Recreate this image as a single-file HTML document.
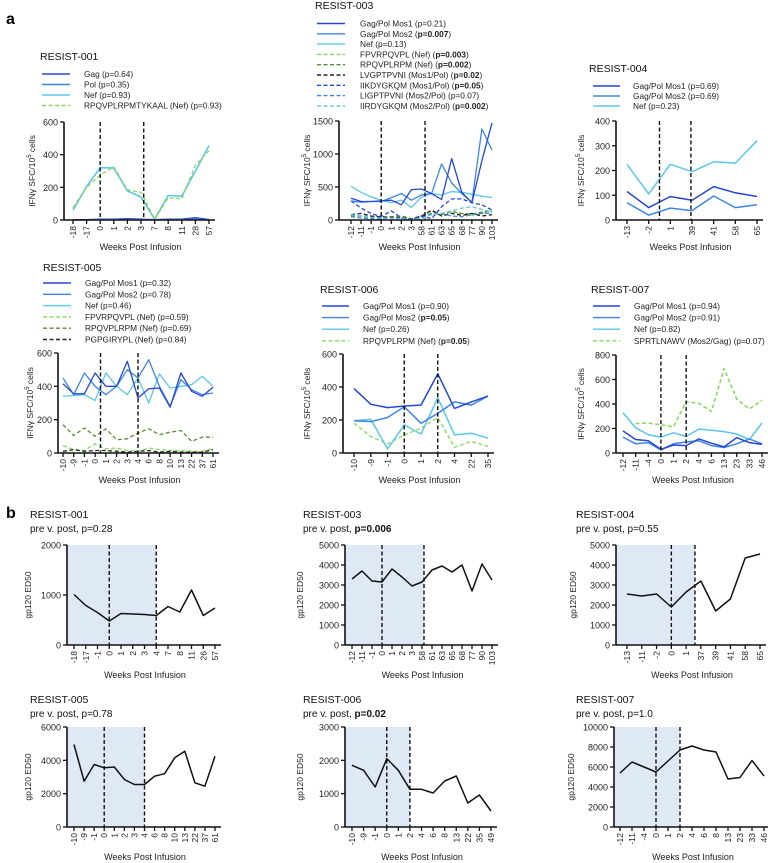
<!DOCTYPE html>
<html><head><meta charset="utf-8">
<style>
html,body{margin:0;padding:0;background:#fff;}
svg{display:block;font-family:"Liberation Sans",Arial,sans-serif;}
</style></head>
<body>
<svg id="fig" width="768" height="863" viewBox="0 0 768 863">
<text x="6" y="24" font-size="16" font-weight="bold">a</text>
<text x="6" y="518" font-size="16" font-weight="bold">b</text>
</svg>
<script>
// ---------- DATA ----------
const C1 = '#2547d4', C2 = '#3d86e6', C3 = '#5cc6ea', G1 = '#86d85e', G2 = '#5d8a3a', K = '#222';

const a1Cats = ['-18','-17','0','1','2','3','7','8','11','28','57'];
const a1Gag = [2,2,5,5,8,5,2,5,5,15,3];
const a1Pol = [0,0,2,2,3,2,0,2,2,5,0];
const a1Nef = [60,205,320,318,178,140,5,150,145,300,455];
const a1Pep = [75,200,275,325,185,170,5,135,130,335,425];

const a3Cats = ['-12','-11','-1','0','1','2','3','58','61','63','65','68','77','90','103'];
const a3Mos1 = [330,280,280,290,300,230,460,470,400,310,930,420,260,900,1470];
const a3Mos2 = [290,270,280,280,340,400,300,380,400,850,560,400,270,1380,1060];
const a3Nef = [510,420,350,300,260,300,190,350,400,380,430,420,390,360,340];
const a3Fpv = [60,50,40,30,40,50,10,30,140,60,100,90,70,100,130];
const a3Rpq = [70,60,50,40,50,60,20,40,100,80,130,100,90,120,140];
const a3Lvg = [80,100,60,50,40,30,20,60,150,60,100,70,100,60,80];
const a3Iik = [290,180,100,50,140,30,10,60,20,200,320,320,260,230,150];
const a3Lig = [50,30,20,20,30,20,10,20,100,100,60,50,80,100,100];
const a3Iir = [80,60,40,30,30,20,10,20,80,100,140,180,200,160,120];

const a4Cats = ['-13','-2','1','39','41','58','65'];
const a4Mos1 = [115,50,95,80,135,110,95];
const a4Mos2 = [70,20,48,38,97,50,62];
const a4Nef = [225,105,225,195,235,230,320];

const a5Cats = ['-10','-9','-1','0','1','2','3','4','6','8','10','13','22','37','61'];
const a5Mos1 = [415,355,355,480,400,400,550,330,385,390,275,480,370,340,395];
const a5Mos2 = [450,350,480,400,350,400,500,450,560,400,280,440,380,350,360];
const a5Nef = [340,345,350,315,480,400,350,450,300,475,390,400,410,460,400];
const a5Fpv = [45,20,15,55,25,30,15,10,30,20,15,15,10,10,25];
const a5Rpq = [170,105,150,100,145,80,85,120,145,110,125,135,70,95,95];
const a5Pgp = [10,20,10,15,15,10,5,10,15,5,10,5,5,5,20];

const a6Cats = ['-10','-9','-1','0','1','2','4','22','35'];
const a6Mos1 = [390,295,275,285,290,480,270,310,345];
const a6Mos2 = [195,190,215,280,180,240,310,290,345];
const a6Nef = [195,205,25,170,115,335,110,120,90];
const a6Rpq = [180,100,55,110,150,215,35,70,40];

const a7Cats = ['-12','-11','-4','0','1','2','4','6','13','23','33','46'];
const a7Mos1 = [180,110,100,30,65,60,115,80,50,125,85,70];
const a7Mos2 = [130,75,85,25,75,90,100,60,45,75,115,75];
const a7Nef = [330,205,150,130,165,135,195,185,175,155,110,245];
const a7Spr = [null,240,245,230,215,420,405,340,690,440,360,430];

const b1Cats = ['-18','-17','-1','0','1','2','3','4','7','8','11','26','57'];
const b1Vals = [1010,790,650,480,630,620,610,590,770,660,1100,590,740];
const b3Cats = ['-12','-11','-1','0','1','2','3','58','61','63','65','68','77','90','103'];
const b3Vals = [3300,3700,3200,3150,3800,3400,2950,3150,3750,3950,3650,4000,2700,4050,3250];
const b4Cats = ['-13','-11','-2','0','1','37','39','41','58','65'];
const b4Vals = [2550,2450,2550,1900,2650,3200,1700,2300,4350,4550];
const b5Cats = ['-10','-9','-1','0','1','2','3','4','6','8','10','13','22','37','61'];
const b5Vals = [4950,2750,3750,3550,3600,2850,2550,2550,3050,3200,4150,4550,2650,2450,4250];
const b6Cats = ['-10','-9','-1','0','1','2','4','6','8','13','22','35','49'];
const b6Vals = [1850,1700,1200,2050,1700,1130,1130,1020,1380,1530,720,960,480];
const b7Cats = ['-12','-11','-4','0','1','2','4','6','8','13','23','33','46'];
const b7Vals = [5400,6500,6000,5500,6600,7700,8100,7700,7500,4800,4950,6650,5100];

// ---------- DRAWING ----------
const NS = 'http://www.w3.org/2000/svg';
const svg = document.getElementById('fig');
function mk(tag, attrs, parent){
  const e = document.createElementNS(NS, tag);
  for (const k in attrs) e.setAttribute(k, attrs[k]);
  (parent||svg).appendChild(e);
  return e;
}

function drawPanel(p){
  const g = mk('g', {});
  
  
  const n = p.cats.length;
  const xs = i => p.t0 + (p.t1 - p.t0) * i / (n - 1);
  const ys = v => p.bot - (p.bot - p.top) * v / p.ymax;

  // title
  const t = mk('text', {x: p.tx, y: p.ty, 'font-size': 10.5, fill: '#111'}, g);
  t.textContent = p.title;
  
  
  if (p.sub){
    const s = mk('text', {x: p.tx, y: p.ty + 14, 'font-size': 10, fill: '#111'}, g);
    
    
    const s1 = mk('tspan', {}, s); s1.textContent = p.sub[0];
    const s2 = mk('tspan', {'font-weight': p.sub[2] ? 'bold' : 'normal'}, s); s2.textContent = p.sub[1];
  }
  // shading
  if (p.shade !== undefined){
    const r = mk('rect', {x: p.ax, y: p.top, width: xs(p.shade) - p.ax, height: p.bot - p.top, fill: '#dfe9f5'}, g);
    
    
  }
  // legend
  if (p.legend){
    p.legend.forEach((it, i) => {
      const y = p.ly + i * p.ld;
      const l = mk('line', {x1: p.lx1, x2: p.lx2, y1: y, y2: y, stroke: it.c, 'stroke-width': 1.4, 'stroke-dasharray': it.d ? '4,2.5' : 'none'}, g);
      
      
      const tx = mk('text', {x: p.ltx, y: y + 3, 'font-size': 8.3, fill: '#222'}, g);
      
      
      const a = mk('tspan', {}, tx); a.textContent = it.n;
      if (it.b){ const b = mk('tspan', {'font-weight': 'bold'}, tx); b.textContent = it.b; const c = mk('tspan', {}, tx); c.textContent = ')'; }
    });
  }
  // series
  p.series.forEach(s => {
    let d = '';
    s.v.forEach((v, i) => { if (v === null) return; d += (d ? 'L' : 'M') + xs(i).toFixed(1) + ',' + ys(v).toFixed(1); });
    const path = mk('path', {d: d, fill: 'none', stroke: s.c, 'stroke-width': s.w || 1.3, 'stroke-dasharray': s.d ? '4,2.5' : 'none', 'stroke-linejoin': 'round'}, g);
    
    
  });
  // vertical dashed lines
  p.vl.forEach(ix => {
    const l = mk('line', {x1: xs(ix), x2: xs(ix), y1: p.top, y2: p.bot, stroke: '#111', 'stroke-width': 1.4, 'stroke-dasharray': '4,2.5'}, g);
    
    
  });
  // axes
  const ya = mk('line', {x1: p.ax, x2: p.ax, y1: p.top, y2: p.bot, stroke: '#111', 'stroke-width': 1.6}, g);
  
  
  const xa = mk('line', {x1: p.ax, x2: p.t1 + 6, y1: p.bot, y2: p.bot, stroke: '#111', 'stroke-width': 1.6}, g);
  
  
  p.yt.forEach(v => {
    mk('line', {x1: p.ax - 4, x2: p.ax, y1: ys(v), y2: ys(v), stroke: '#111', 'stroke-width': 1.3}, g);
    const tl = mk('text', {x: p.ax - 6, y: ys(v) + 3.5, 'font-size': 9, 'text-anchor': 'end', fill: '#222'}, g);
    tl.textContent = v;
    
    
  });
  p.cats.forEach((c, i) => {
    mk('line', {x1: xs(i), x2: xs(i), y1: p.bot, y2: p.bot + 4, stroke: '#111', 'stroke-width': 1.3}, g);
    const tl = mk('text', {x: 0, y: 0, 'font-size': 8.5, 'text-anchor': 'end', fill: '#222', transform: 'translate(' + (xs(i) + 3).toFixed(1) + ',' + (p.bot + 6) + ') rotate(-90)'}, g);
    tl.textContent = c;
    
    
  });
  const xl = mk('text', {x: (p.ax + p.t1) / 2 + 4, y: p.bot + p.xlo, 'font-size': 9, 'text-anchor': 'middle', fill: '#222'}, g);
  xl.textContent = 'Weeks Post Infusion';
  
  
  const cy = (p.top + p.bot) / 2;
  const yl = mk('text', {x: 0, y: 0, 'font-size': 8.5, 'text-anchor': 'middle', fill: '#222', transform: 'translate(' + p.ylx + ',' + cy + ') rotate(-90)'}, g);
  
  
  if (p.kind === 'a'){
    const a = mk('tspan', {}, yl); a.textContent = 'IFNγ SFC/10';
    const b = mk('tspan', {'font-size': 6, dy: -4}, yl); b.textContent = '5';
    const c = mk('tspan', {dy: 4}, yl); c.textContent = ' cells';
  } else yl.textContent = 'gp120 ED50';
}

// legends
const L4 = (a,b,c) => [{n:a,c:C1},{n:b,c:C2},{n:c,c:C3}];

drawPanel({id:'resist-001-ifn', kind:'a', title:'RESIST-001', tx:40, ty:60, cats:a1Cats, ax:64, top:122, bot:220, t0:73, t1:209, ymax:600, yt:[0,200,400,600], vl:[2,5.2], xlo:30, ylx:35,
  lx1:42, lx2:70, ltx:84, ly:74, ld:10.5,
  legend:[{n:'Gag (p=0.64)',c:C1},{n:'Pol (p=0.35)',c:C2},{n:'Nef (p=0.93)',c:C3},{n:'RPQVPLRPMTYKAAL (Nef) (p=0.93)',c:G1,d:1}],
  series:[{name:'gag-line',v:a1Gag,c:C1},{name:'pol-line',v:a1Pol,c:C2},{name:'nef-line',v:a1Nef,c:C3,w:1.6},{name:'rpq-peptide-line',v:a1Pep,c:G1,d:1}]});

drawPanel({id:'resist-003-ifn', kind:'a', title:'RESIST-003', tx:315, ty:9, cats:a3Cats, ax:339, top:121, bot:220, t0:351, t1:492, ymax:1500, yt:[0,500,1000,1500], vl:[3,7.35], xlo:30, ylx:310,
  lx1:317, lx2:345, ltx:360, ly:23.5, ld:10.3,
  legend:[{n:'Gag/Pol Mos1 (p=0.21)',c:C1},{n:'Gag/Pol Mos2 (',b:'p=0.007',c:C2},{n:'Nef (p=0.13)',c:C3},{n:'FPVRPQVPL (Nef) (',b:'p=0.003',c:G1,d:1},{n:'RPQVPLRPM (Nef) (',b:'p=0.002',c:G2,d:1},{n:'LVGPTPVNI (Mos1/Pol) (',b:'p=0.02',c:K,d:1},{n:'IIKDYGKQM (Mos1/Pol) (',b:'p=0.05',c:C1,d:1},{n:'LIGPTPVNI (Mos2/Pol) (p=0.07)',c:C2,d:1},{n:'IIRDYGKQM (Mos2/Pol) (',b:'p=0.002',c:C3,d:1}],
  series:[{name:'fpv-line',v:a3Fpv,c:G1,d:1},{name:'rpq-line',v:a3Rpq,c:G2,d:1},{name:'lvg-line',v:a3Lvg,c:K,d:1},{name:'iik-line',v:a3Iik,c:C1,d:1},{name:'lig-line',v:a3Lig,c:C2,d:1},{name:'iir-line',v:a3Iir,c:C3,d:1},{name:'nef-line',v:a3Nef,c:C3},{name:'mos2-line',v:a3Mos2,c:C2},{name:'mos1-line',v:a3Mos1,c:C1}]});

drawPanel({id:'resist-004-ifn', kind:'a', title:'RESIST-004', tx:589, ty:72, cats:a4Cats, ax:616, top:121, bot:220, t0:627, t1:757, ymax:400, yt:[0,100,200,300,400], vl:[1.5,2.95], xlo:30, ylx:584,
  lx1:593, lx2:620, ltx:633, ly:86, ld:10,
  legend:L4('Gag/Pol Mos1 (p=0.69)','Gag/Pol Mos2 (p=0.69)','Nef (p=0.23)'),
  series:[{name:'nef-line',v:a4Nef,c:C3,w:1.5},{name:'mos2-line',v:a4Mos2,c:C2,w:1.5},{name:'mos1-line',v:a4Mos1,c:C1,w:1.5}]});

drawPanel({id:'resist-005-ifn', kind:'a', title:'RESIST-005', tx:43, ty:271, cats:a5Cats, ax:58, top:353, bot:453, t0:63, t1:213, ymax:600, yt:[0,200,400,600], vl:[3.5,7], xlo:30, ylx:33,
  lx1:43, lx2:71, ltx:85, ly:283, ld:11.3,
  legend:[{n:'Gag/Pol Mos1 (p=0.32)',c:C1},{n:'Gag/Pol Mos2 (p=0.78)',c:C2},{n:'Nef (p=0.46)',c:C3},{n:'FPVRPQVPL (Nef) (p=0.59)',c:G1,d:1},{n:'RPQVPLRPM (Nef) (p=0.69)',c:G2,d:1},{n:'PGPGIRYPL (Nef) (p=0.84)',c:K,d:1}],
  series:[{name:'fpv-line',v:a5Fpv,c:G1,d:1},{name:'pgp-line',v:a5Pgp,c:K,d:1},{name:'rpq-line',v:a5Rpq,c:G2,d:1},{name:'nef-line',v:a5Nef,c:C3},{name:'mos2-line',v:a5Mos2,c:C2},{name:'mos1-line',v:a5Mos1,c:C1}]});

drawPanel({id:'resist-006-ifn', kind:'a', title:'RESIST-006', tx:320, ty:293, cats:a6Cats, ax:343, top:354, bot:453, t0:354, t1:488, ymax:600, yt:[0,200,400,600], vl:[3,5], xlo:30, ylx:310,
  lx1:322, lx2:349, ltx:363, ly:306, ld:11.6,
  legend:[{n:'Gag/Pol Mos1 (p=0.90)',c:C1},{n:'Gag/Pol Mos2 (',b:'p=0.05',c:C2},{n:'Nef (p=0.26)',c:C3},{n:'RPQVPLRPM (Nef) (',b:'p=0.05',c:G1,d:1}],
  series:[{name:'rpq-line',v:a6Rpq,c:G1,d:1},{name:'nef-line',v:a6Nef,c:C3,w:1.5},{name:'mos2-line',v:a6Mos2,c:C2,w:1.5},{name:'mos1-line',v:a6Mos1,c:C1,w:1.5}]});

drawPanel({id:'resist-007-ifn', kind:'a', title:'RESIST-007', tx:591, ty:293, cats:a7Cats, ax:616, top:355, bot:453, t0:623, t1:762, ymax:800, yt:[0,200,400,600,800], vl:[3,5], xlo:30, ylx:584,
  lx1:593, lx2:620, ltx:634, ly:306, ld:11.6,
  legend:[{n:'Gag/Pol Mos1 (p=0.94)',c:C1},{n:'Gag/Pol Mos2 (p=0.91)',c:C2},{n:'Nef (p=0.82)',c:C3},{n:'SPRTLNAWV (Mos2/Gag) (p=0.07)',c:G1,d:1}],
  series:[{name:'spr-line',v:a7Spr,c:G1,d:1,w:1.5},{name:'nef-line',v:a7Nef,c:C3,w:1.5},{name:'mos2-line',v:a7Mos2,c:C2,w:1.5},{name:'mos1-line',v:a7Mos1,c:C1,w:1.5}]});

// panel b
const B = (id,title,sub,bold,tx,ty,cats,vals,ax,top,bot,t0,t1,ymax,yt,vl,shade,ylx) => drawPanel({id:id, kind:'b', title:title, sub:['pre v. post, ', sub, bold], tx:tx, ty:ty, cats:cats, ax:ax, top:top, bot:bot, t0:t0, t1:t1, ymax:ymax, yt:yt, vl:vl, shade:shade, xlo:33, ylx:ylx, series:[{name:'ed50-line',v:vals,c:'#111',w:1.5}]});

B('resist-001-ed50','RESIST-001','p=0.28',0,30,518,b1Cats,b1Vals,67,545,645,74,215,2000,[0,1000,2000],[3,7],7,31);
B('resist-003-ed50','RESIST-003','p=0.006',1,303,518,b3Cats,b3Vals,345,545,645,352,492,5000,[0,1000,2000,3000,4000,5000],[3,7.2],7.2,303);
B('resist-004-ed50','RESIST-004','p=0.55',0,576,518,b4Cats,b4Vals,616,545,645,627,760,5000,[0,1000,2000,3000,4000,5000],[3,4.6],4.6,576);
B('resist-005-ed50','RESIST-005','p=0.78',0,30,703,b5Cats,b5Vals,67,727,827,74,215,6000,[0,2000,4000,6000],[3,7],7,31);
B('resist-006-ed50','RESIST-006','p=0.02',1,303,703,b6Cats,b6Vals,345,727,827,352,491,3000,[0,1000,2000,3000],[3,5],5,303);
B('resist-007-ed50','RESIST-007','p=1.0',0,576,703,b7Cats,b7Vals,614,727,827,620,764,10000,[0,2000,4000,6000,8000,10000],[3,5],5,574);
</script>
</body></html>
